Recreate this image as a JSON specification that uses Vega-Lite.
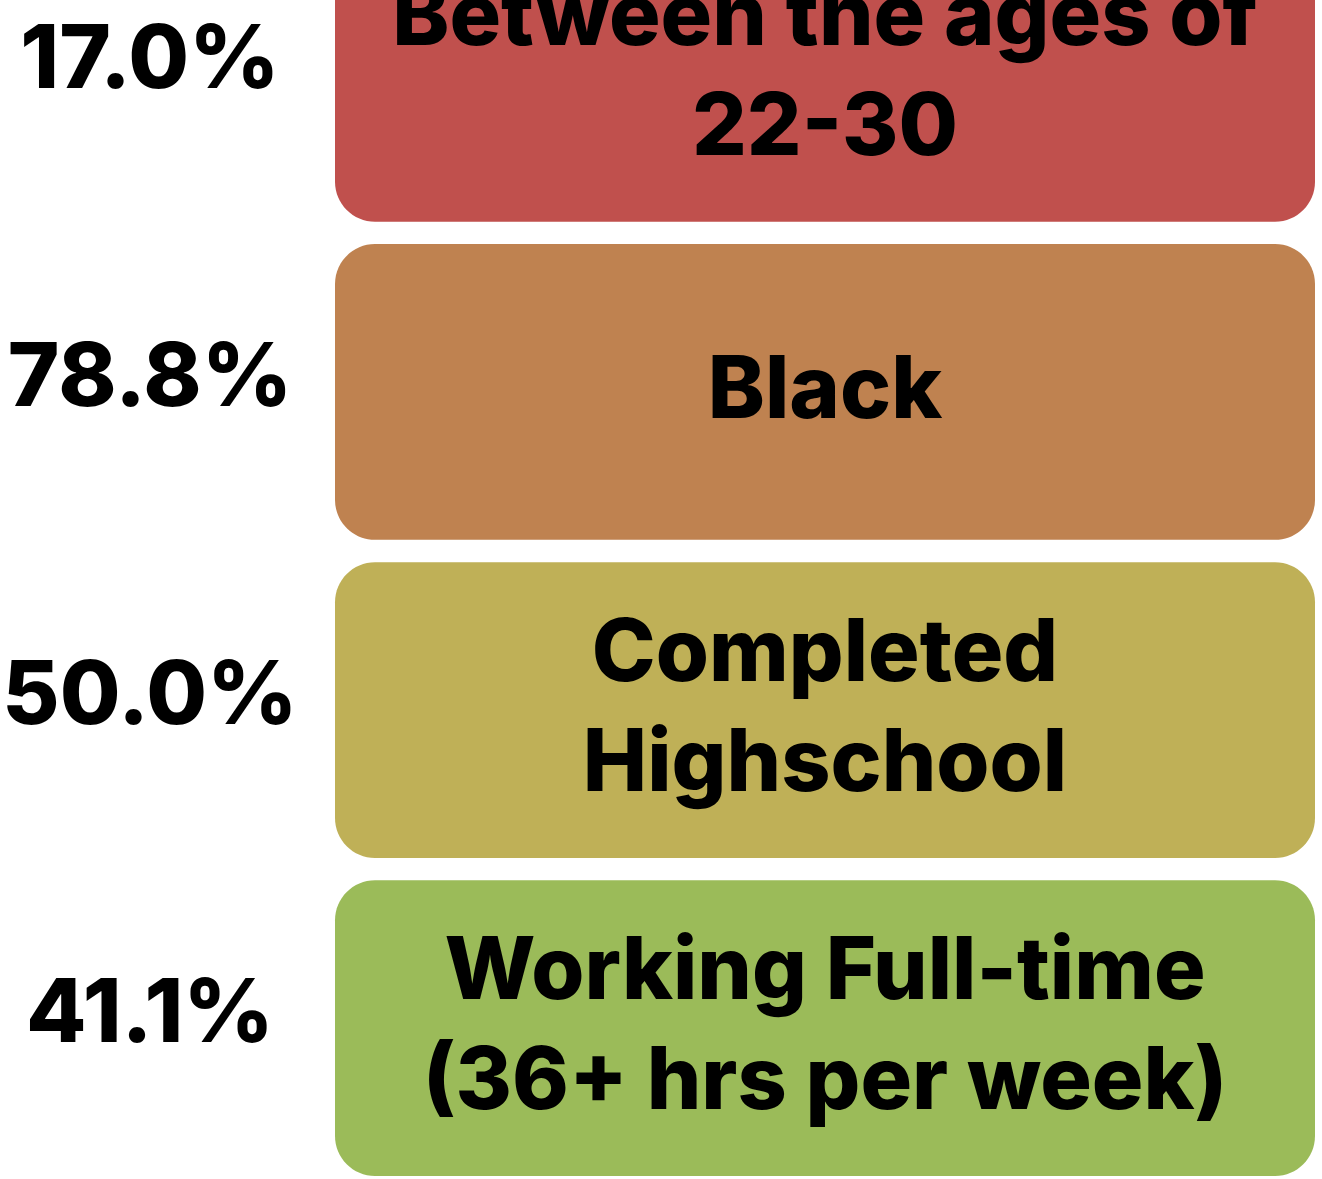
{
  "$schema": "https://vega.github.io/schema/vega-lite/v6.json",
  "padding": {"left": 0, "top": -74, "right": 7, "bottom": 3},
  "background": "white",
  "bounds": "flush",
  "config": {"view": {"stroke": null}, "concat": {"spacing": 35}},
  "data": {"values": [
    {"order": 1, "pct": "17.0%", "label": "Between the ages of\n22-30", "lines": 2, "color": "#C0504D"},
    {"order": 2, "pct": "78.8%", "label": "Black", "lines": 1, "color": "#BF8250"},
    {"order": 3, "pct": "50.0%", "label": "Completed\nHighschool", "lines": 2, "color": "#BFB057"},
    {"order": 4, "pct": "41.1%", "label": "Working Full-time\n(36+ hrs per week)", "lines": 2, "color": "#9BBB59"}
  ]},
  "hconcat": [
    {
      "width": 300,
      "height": 1250,
      "mark": {"type": "text", "font": "Inter", "fontWeight": 800, "fontSize": 88, "color": "black", "baseline": "middle", "align": "center", "dy": -12},
      "encoding": {
        "y": {"field": "order", "type": "ordinal", "axis": null, "scale": {"type": "band", "paddingInner": 0.07, "paddingOuter": 0}},
        "text": {"field": "pct"}
      }
    },
    {
      "width": 980,
      "height": 1250,
      "layer": [
        {
          "mark": {"type": "bar", "cornerRadius": 40},
          "encoding": {
            "y": {"field": "order", "type": "ordinal", "axis": null, "scale": {"type": "band", "paddingInner": 0.07, "paddingOuter": 0}},
            "color": {"field": "color", "type": "nominal", "scale": null, "legend": null}
          }
        },
        {
          "transform": [{"filter": "datum.lines == 1"}],
          "mark": {"type": "text", "font": "Inter", "fontWeight": 800, "fontSize": 86, "color": "black", "baseline": "middle", "align": "center"},
          "encoding": {
            "y": {"field": "order", "type": "ordinal", "axis": null},
            "text": {"field": "label"}
          }
        },
        {
          "transform": [{"filter": "datum.lines == 2"}],
          "mark": {"type": "text", "font": "Inter", "fontWeight": 800, "fontSize": 86, "color": "black", "baseline": "middle", "align": "center", "lineBreak": "\n", "lineHeight": 110, "dy": -55},
          "encoding": {
            "y": {"field": "order", "type": "ordinal", "axis": null},
            "text": {"field": "label"}
          }
        }
      ]
    }
  ]
}
